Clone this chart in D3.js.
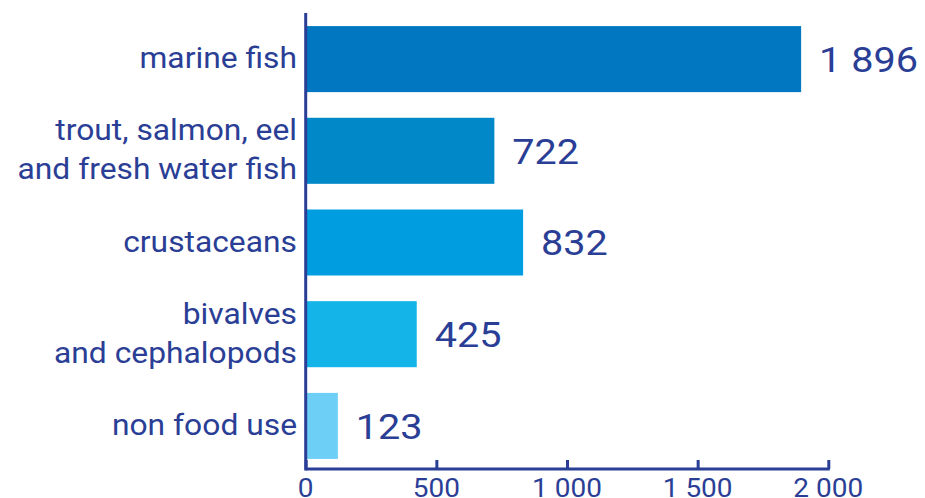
<!DOCTYPE html>
<html><head><meta charset="utf-8">
<script src="https://cdn.jsdelivr.net/npm/d3@7"></script>
<style>
html,body{margin:0;padding:0;background:#fff;}
svg{display:block;font-family:Roboto,"Liberation Sans",sans-serif;}
</style></head>
<body>
<svg id="chart" width="925" height="498"></svg>
<script>
const categories = ["marine fish", "trout, salmon, eel\nand fresh water fish", "crustaceans", "bivalves\nand cephalopods", "non food use"];
const values = [1896, 722, 832, 425, 123];
const barColors = ["#0077c0", "#0088c8", "#009ee0", "#14b4e9", "#6dcff6"];
const tickValues = [0, 500, 1000, 1500, 2000];

const ink = "#2a3e96";
const svg = d3.select("#chart");
const x = d3.scaleLinear().domain([0, 2000]).range([305.7, 828.3]);
const y = d3.scaleBand().domain(categories).range([16, 469]).paddingInner(0.28).paddingOuter(0.11);
const loc = d3.formatLocale({decimal: ",", thousands: "\u00a0", grouping: [3], currency: ["", ""]});
const fmt = loc.format(",d");

// bars
svg.append("g").selectAll("rect").data(categories).join("rect")
  .attr("x", x(0))
  .attr("y", d => y(d))
  .attr("width", (d, i) => x(values[i]) - x(0))
  .attr("height", y.bandwidth())
  .attr("fill", (d, i) => barColors[i]);

// value labels (horizontally stretched to mimic the extended typeface)
svg.append("g").selectAll("text").data(categories).join("text")
  .attr("transform", (d, i) => `translate(${x(values[i]) + 18},${y(d) + y.bandwidth() / 2 + 12.8}) scale(1.1,1)`)
  .attr("fill", ink)
  .attr("font-size", 36)
  .text((d, i) => fmt(values[i]));

// category labels
const labelX = 297;
const cat = svg.append("g").selectAll("text").data(categories).join("text")
  .attr("transform", d => `translate(${labelX},${y(d) + y.bandwidth() / 2 + 9}) scale(1.06,1)`)
  .attr("text-anchor", "end")
  .attr("fill", ink)
  .attr("font-size", 30);
cat.each(function(d) {
  const lines = d.split("\n");
  const t = d3.select(this);
  const lh = 39;
  const off = -(lines.length - 1) * lh / 2;
  lines.forEach((ln, k) => {
    t.append("tspan").attr("x", 0).attr("y", off + k * lh).text(ln);
  });
});

// x axis ticks
const xAxis = d3.axisTop(x).tickValues(tickValues).tickSize(9).tickFormat("");
const gx = svg.append("g").attr("transform", "translate(0,469)").call(xAxis);
gx.select(".domain").remove();
gx.selectAll(".tick line").attr("stroke", ink).attr("stroke-width", 3);
svg.append("line").attr("x1", x(0)).attr("x2", x(2000) + 1.5).attr("y1", 469).attr("y2", 469)
  .attr("stroke", ink).attr("stroke-width", 3);
svg.append("g").selectAll("text").data(tickValues).join("text")
  .attr("transform", d => `translate(${x(d)},497) scale(1.12,1)`)
  .attr("text-anchor", "middle")
  .attr("fill", ink)
  .attr("font-size", 25)
  .text(d => fmt(d));

// y axis line
svg.append("line").attr("x1", x(0)).attr("x2", x(0)).attr("y1", 13).attr("y2", 470.5)
  .attr("stroke", ink).attr("stroke-width", 3);
</script>
</body></html>
